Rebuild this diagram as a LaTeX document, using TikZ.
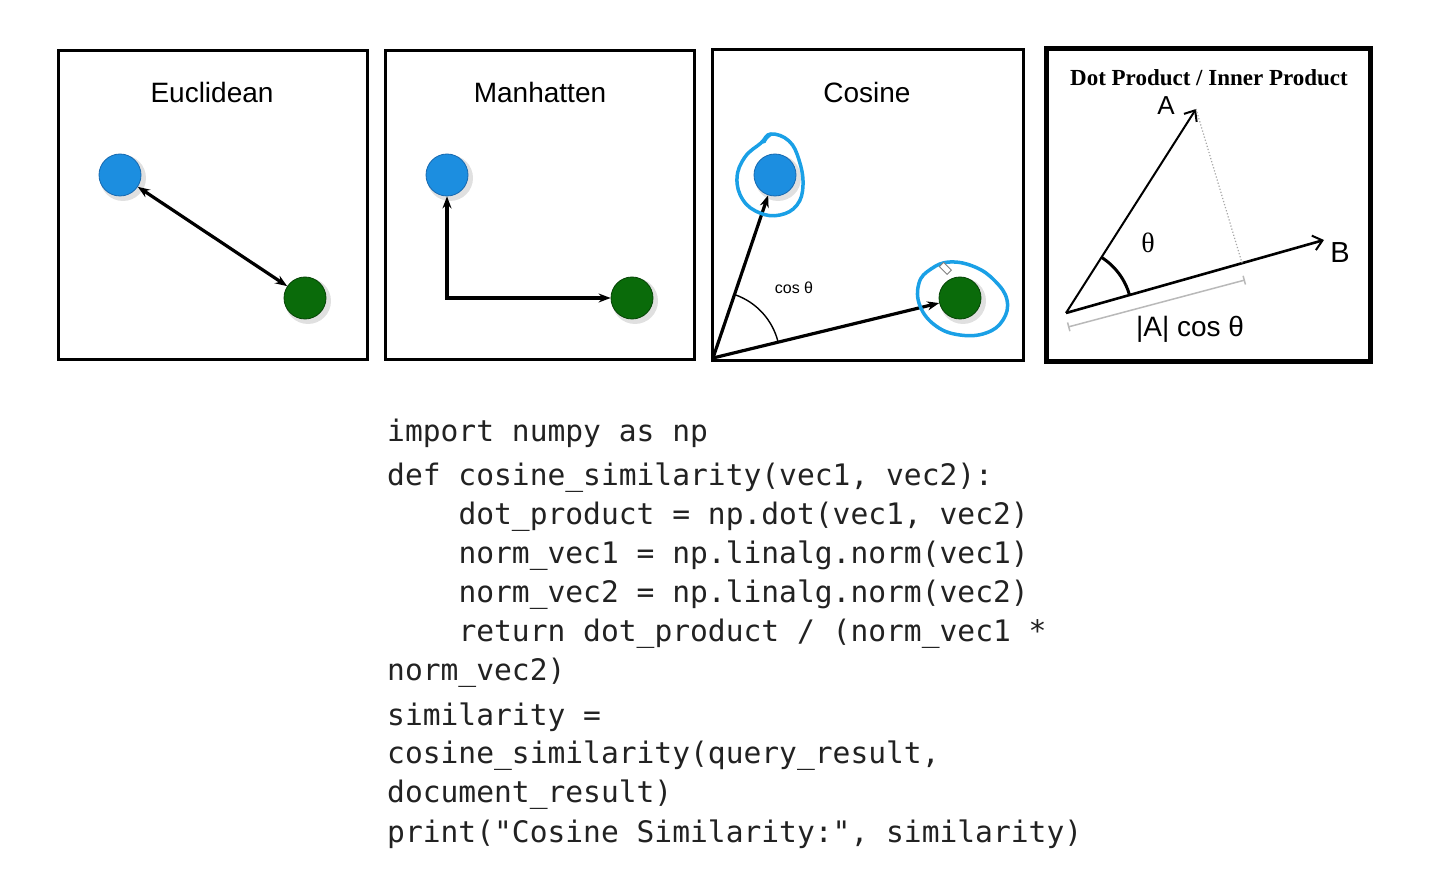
\documentclass[tikz,border=0pt]{standalone}
\usepackage{fontspec}
\setmainfont{Liberation Sans}
\setmonofont{DejaVu Sans Mono}
\newfontfamily\tms{Liberation Serif}
\usetikzlibrary{arrows.meta}
\definecolor{ptblue}{HTML}{1C8EE0}
\definecolor{ptblueb}{HTML}{1769B0}
\definecolor{ptgreen}{HTML}{0A6B0A}
\definecolor{ptgreenb}{HTML}{064406}
\definecolor{loop}{HTML}{1AA0E6}
\definecolor{codecol}{HTML}{222222}
\tikzset{
  panel/.style={draw=black, line width=3pt},
  bdot/.style={circle, fill=ptblue, draw=ptblueb, line width=0.8pt, minimum size=42pt, inner sep=0pt},
  gdot/.style={circle, fill=ptgreen, draw=ptgreenb, line width=0.8pt, minimum size=42pt, inner sep=0pt},
  shad/.style={circle, fill=black, opacity=0.12, minimum size=46pt, inner sep=0pt},
  vec/.style={line width=3.2pt, -{Stealth[length=12pt,width=9pt]}},
  dvec/.style={line width=3.2pt, {Stealth[length=12pt,width=9pt]}-{Stealth[length=12pt,width=9pt]}},
  ovec/.style={line width=2pt, -{Straight Barb[length=9pt,width=15pt,line width=2pt]}},
  title/.style={anchor=base, inner sep=0pt, font=\fontsize{28}{30}\selectfont},
  code/.style={anchor=base west, inner sep=0pt, text=codecol, font=\ttfamily\fontsize{29.6}{32}\selectfont},
  hand/.style={draw=loop, line width=3.5pt, line cap=round, line join=round}
}
\begin{document}
\begin{tikzpicture}[x=1pt,y=1pt]
\useasboundingbox (0,0) rectangle (1441,-893);
\fill[white] (0,0) rectangle (1441,-893);

% panels
\draw[panel] (58,-51) rectangle (367,-360);
\draw[panel] (385,-51) rectangle (694,-360);
\draw[panel] (712,-50) rectangle (1023,-361);
\draw[draw=black, line width=5pt] (1046,-49) rectangle (1370,-362);

% titles
\node[title] (t1) at (212,-103) {Euclidean};
\node[title] (t2) at (540,-103) {Manhatten};
\node[title] (t3) at (867,-103) {Cosine};
\node[anchor=base, inner sep=0pt, font=\tms\bfseries\fontsize{23}{25}\selectfont] (t4) at (1209,-86) {Dot Product / Inner Product};

% Euclidean
\node[shad] at (123,-178) {};
\node[shad] at (308,-301) {};
\node[bdot] (b1) at (120,-175) {};
\node[gdot] (g1) at (305,-298) {};
\draw[dvec] (b1) -- (g1);

% Manhatten
\node[shad] at (450,-178) {};
\node[shad] at (635,-301) {};
\node[bdot] (b2) at (447,-175) {};
\node[gdot] (g2) at (632,-298) {};
\coordinate (m2) at (447,-298);
\draw[vec] (m2) -- (b2);
\draw[vec] (m2) -- (g2);
\fill (445.4,-296.4) rectangle (448.6,-299.6);

% Cosine
\node[shad] at (778,-178) {};
\node[shad] at (963,-301) {};
\node[bdot] (b3) at (775,-175) {};
\node[gdot] (g3) at (960,-298) {};
\coordinate (o3) at (713,-358);
\draw[vec] (o3) -- (b3);
\draw[vec] (o3) -- (g3);
\draw[line width=1.4pt] (o3) ++(13.65:67) arc (13.65:71.3:67);
\node[font=\fontsize{16}{18}\selectfont] (c3) at (794,-288) {cos θ};
\draw[hand] plot[smooth cycle, tension=0.7] coordinates {(771,-134) (789,-141) (799,-160) (803,-185) (797,-205) (780,-215) (760,-213) (743,-200) (737,-178) (745,-157) (761,-143)};
\draw[hand] (771,-134) .. controls (766,-138) .. (764,-142);
\draw[hand] plot[smooth cycle, tension=0.7] coordinates {(919,-283) (931,-269) (950,-262) (975,-267) (995,-281) (1007,-300) (1003,-320) (986,-333) (960,-335) (936,-326) (920,-306)};
\draw[gray, fill=white, line width=0.8pt, rotate around={-45:(945,-268)}] (940,-271) rectangle (951,-265);

% Dot product
\coordinate (O) at (1066,-313);
\coordinate (A) at (1196,-109);
\coordinate (B) at (1324,-240);
\coordinate (P) at (1242,-263);
\draw[ovec] (O) -- (A);
\draw[ovec, line width=2.6pt] (O) -- (B);
\draw[gray!70, line width=1.2pt, dotted] (A) -- (P);
\draw[line width=3pt] (O) ++(15.8:66) arc (15.8:57.8:66);
\coordinate (M1) at (1068,-327);
\coordinate (M2) at (1245,-280);
\draw[gray!55, line width=1.5pt, {Bar[width=9pt]}-{Bar[width=9pt]}] (M1) -- (M2);
\node[font=\fontsize{26}{28}\selectfont] (lA) at (1166,-106) {A};
\node[font=\fontsize{29}{31}\selectfont] (lB) at (1340,-253) {B};
\node[font=\tms\fontsize{28}{30}\selectfont] (lt) at (1148,-243) {θ};
\node[font=\fontsize{28}{30}\selectfont] (lAc) at (1190,-329) {|A| cos θ};

% code
\node[code] (c1) at (387,-441) {import numpy as np};
\node[code] (c2) at (387,-485) {def cosine\_similarity(vec1, vec2):};
\node[code] (c3l) at (458.3,-524) {dot\_product = np.dot(vec1, vec2)};
\node[code] (c4) at (458.3,-563) {norm\_vec1 = np.linalg.norm(vec1)};
\node[code] (c5) at (458.3,-602) {norm\_vec2 = np.linalg.norm(vec2)};
\node[code] (c6) at (458.3,-641) {return dot\_product / (norm\_vec1 *};
\node[code] (c7) at (387,-680) {norm\_vec2)};
\node[code] (c8) at (387,-725) {similarity =};
\node[code] (c9) at (387,-763) {cosine\_similarity(query\_result,};
\node[code] (c10) at (387,-802) {document\_result)};
\node[code] (c11) at (387,-842) {print("Cosine Similarity:", similarity)};
\end{tikzpicture}
\end{document}
